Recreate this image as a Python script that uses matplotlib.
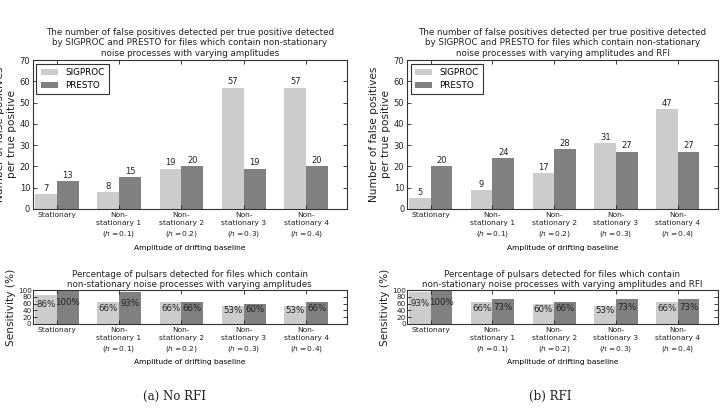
import matplotlib
matplotlib.use('Agg')
import matplotlib.pyplot as plt
import numpy as np

categories = ['Stationary',
              'Non-\nstationary 1\n($h=0.1$)',
              'Non-\nstationary 2\n($h=0.2$)',
              'Non-\nstationary 3\n($h=0.3$)',
              'Non-\nstationary 4\n($h=0.4$)']
series_names = ['SIGPROC', 'PRESTO']

# false positives per true positive
fp_norfi_sigproc = [7, 8, 19, 57, 57]
fp_norfi_presto = [13, 15, 20, 19, 20]
fp_rfi_sigproc = [5, 9, 17, 31, 47]
fp_rfi_presto = [20, 24, 28, 27, 27]

# sensitivity (%)
sens_norfi_sigproc = [86, 66, 66, 53, 53]
sens_norfi_presto = [100, 93, 66, 60, 66]
sens_rfi_sigproc = [93, 66, 60, 53, 66]
sens_rfi_presto = [100, 73, 66, 73, 73]

titles_top = ['The number of false positives detected per true positive detected\n'
              'by SIGPROC and PRESTO for files which contain non-stationary\n'
              'noise processes with varying amplitudes',
              'The number of false positives detected per true positive detected\n'
              'by SIGPROC and PRESTO for files which contain non-stationary\n'
              'noise processes with varying amplitudes and RFI']
titles_bot = ['Percentage of pulsars detected for files which contain\n'
              'non-stationary noise processes with varying amplitudes',
              'Percentage of pulsars detected for files which contain\n'
              'non-stationary noise processes with varying amplitudes and RFI']
captions = ['(a) No RFI', '(b) RFI']

c_sig = '#cccccc'
c_pre = '#808080'
txt = '#222222'
width = 0.35
ind = np.arange(len(categories))

fig = plt.figure(figsize=(7.23, 4.11), dpi=100)

def style(ax):
    ax.tick_params(direction='in', top=True, right=True, length=3, width=0.6,
                   labelsize=5.4, pad=2, colors=txt)
    for s in ax.spines.values():
        s.set_linewidth(0.8)
        s.set_color('#333333')
    ax.set_xlim(-0.03, 5.0)
    ax.set_xticks(ind + width)
    ax.set_xticklabels(categories, fontsize=5.4, linespacing=1.45)
    ax.set_xlabel('Amplitude of drifting baseline', fontsize=5.4, labelpad=4)

panels = [
    (0.0456, 0.434, 0.242, fp_norfi_sigproc, fp_norfi_presto, sens_norfi_sigproc, sens_norfi_presto),
    (0.563, 0.430, 0.761, fp_rfi_sigproc, fp_rfi_presto, sens_rfi_sigproc, sens_rfi_presto),
]

for k, (left, w, capx, fs, fpr, ss, spr) in enumerate(panels):
    ax = fig.add_axes([left, 0.4915, w, 0.3625])
    b1 = ax.bar(ind, fs, width, color=c_sig, linewidth=0, align='edge', label=series_names[0])
    b2 = ax.bar(ind + width, fpr, width, color=c_pre, linewidth=0, align='edge', label=series_names[1])
    for bars in (b1, b2):
        for r in bars:
            h = r.get_height()
            ax.text(r.get_x() + r.get_width() / 2, h + 0.6, '%d' % h,
                    ha='center', va='bottom', fontsize=6, color=txt)
    ax.set_ylim(0, 70)
    ax.set_yticks(range(0, 71, 10))
    style(ax)
    ax.tick_params(axis='y', labelsize=6)
    ax.set_ylabel('Number of false positives\nper true positive', fontsize=7.6,
                  labelpad=2, color=txt)
    ax.set_title(titles_top[k], fontsize=6.3, pad=3, color=txt)
    leg = ax.legend(loc='upper left', fontsize=6.3, fancybox=False, framealpha=1,
                    edgecolor='#333333', handlelength=2.0, borderpad=0.5,
                    labelspacing=0.45, borderaxespad=0.4)
    leg.get_frame().set_linewidth(0.8)

    ax2 = fig.add_axes([left, 0.2117, w, 0.0827])
    b1 = ax2.bar(ind, ss, width, color=c_sig, linewidth=0, align='edge')
    b2 = ax2.bar(ind + width, spr, width, color=c_pre, linewidth=0, align='edge')
    for bars in (b1, b2):
        for r in bars:
            h = r.get_height()
            ax2.text(r.get_x() + r.get_width() / 2, h * 0.5, '%d%%' % h,
                     ha='center', va='bottom', fontsize=6.2, color=txt)
    ax2.set_ylim(0, 100)
    ax2.set_yticks(range(0, 101, 20))
    style(ax2)
    ax2.tick_params(axis='y', labelsize=5.2, pad=1)
    ax2.set_ylabel('Sensitivity (%)', fontsize=7.6, labelpad=1, color=txt)
    ax2.set_title(titles_bot[k], fontsize=6.3, pad=2, color=txt)

    fig.text(capx, 0.035, captions[k], ha='center', va='center',
             fontsize=8.5, family='DejaVu Serif', color=txt)

fig.savefig('out.png', dpi=100)
